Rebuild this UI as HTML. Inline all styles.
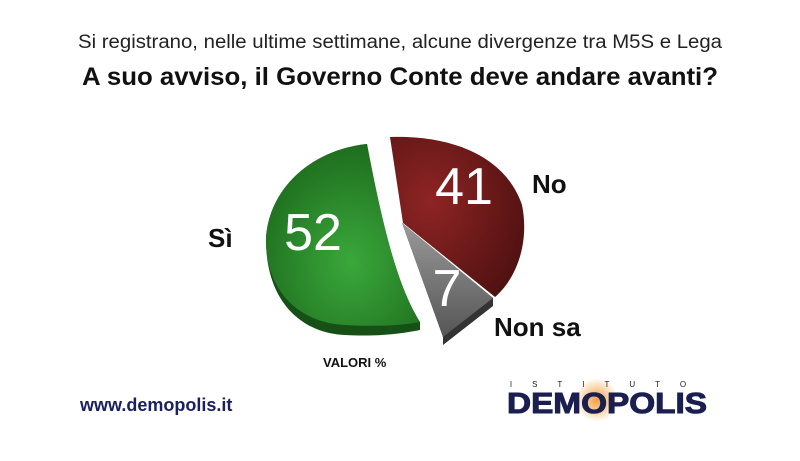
<!DOCTYPE html>
<html><head><meta charset="utf-8"><style>
body{margin:0;width:800px;height:456px;background:#fff;overflow:hidden;font-family:"Liberation Sans",sans-serif}
</style></head><body>
<svg width="800" height="456" viewBox="0 0 800 456" xmlns="http://www.w3.org/2000/svg">
<defs>
<radialGradient id="g" cx="0.55" cy="0.65" r="0.75"><stop offset="0" stop-color="#3aa83a"/><stop offset="1" stop-color="#1a641a"/></radialGradient>
<radialGradient id="r" cx="0.3" cy="0.4" r="0.8"><stop offset="0" stop-color="#8e2424"/><stop offset="1" stop-color="#4e1010"/></radialGradient>
<linearGradient id="gr" x1="0" y1="0" x2="0" y2="1"><stop offset="0" stop-color="#9a9a9a"/><stop offset="1" stop-color="#555"/></linearGradient>
<radialGradient id="o" cx="0.5" cy="0.5" r="0.5"><stop offset="0" stop-color="#f0a040"/><stop offset="1" stop-color="#f0a040" stop-opacity="0"/></radialGradient>
</defs>
<text x="400" y="48" text-anchor="middle" font-size="19" fill="#222" textLength="644" lengthAdjust="spacingAndGlyphs">Si registrano, nelle ultime settimane, alcune divergenze tra M5S e Lega</text>
<text x="400" y="85" text-anchor="middle" font-size="25" font-weight="bold" fill="#111" textLength="636" lengthAdjust="spacingAndGlyphs">A suo avviso, il Governo Conte deve andare avanti?</text>
<!-- green -->
<path d="M367,144 C310,150 268,190 266,240 C266,300 300,333 345,335 C380,337 405,333 420,330 L420,322 C400,290 385,240 367,144 Z" fill="#165016"/>
<path d="M367,144 C310,150 268,190 266,240 C266,292 300,323 345,325 C380,327 405,325 420,322 C400,290 385,240 367,144 Z" fill="url(#g)"/>
<!-- red -->
<path d="M390,137 C450,135 505,155 522,205 C530,245 515,280 495,297 L403,223 Z" fill="url(#r)"/>
<!-- gray -->
<path d="M402,223 L493,298 L493,306 L443,345 L443,337 Z" fill="#333"/>
<path d="M402,223 L493,298 L443,337 Z" fill="url(#gr)"/>
<g fill="#fff" font-size="52" text-anchor="middle">
<text x="313" y="250">52</text><text x="464" y="204">41</text><text x="447" y="306">7</text></g>
<g font-weight="bold" font-size="26" fill="#111">
<text x="208" y="247">Sì</text><text x="532" y="193">No</text><text x="494" y="336">Non sa</text></g>
<text x="323" y="367" font-size="13" font-weight="bold" fill="#111">VALORI %</text>
<text x="80" y="411" font-size="18" font-weight="bold" fill="#1a2060">www.demopolis.it</text>
<circle cx="597" cy="400" r="22" fill="url(#o)"/>
<text x="608" y="387" font-size="8" fill="#222" text-anchor="middle" letter-spacing="20">ISTITUTO</text>
<text x="607" y="413" font-size="29" font-weight="bold" fill="#1a1f50" text-anchor="middle" textLength="200" lengthAdjust="spacingAndGlyphs" stroke="#1a1f50" stroke-width="1">DEMOPOLIS</text>
</svg>
</body></html>
